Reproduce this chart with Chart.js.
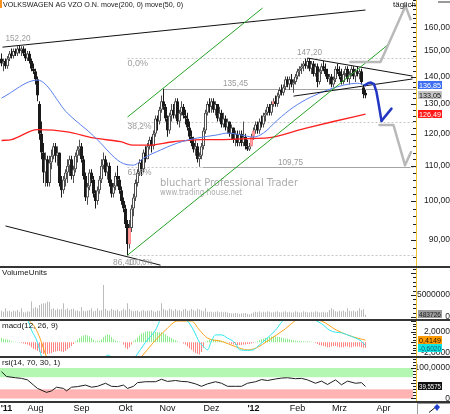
<!DOCTYPE html>
<html>
<head>
<meta charset="utf-8">
<title>VOLKSWAGEN AG VZO O.N.</title>
<script src="https://cdn.jsdelivr.net/npm/chart.js@4.4.1/dist/chart.umd.min.js"></script>
<style>
html,body{margin:0;padding:0;background:#fff;}
#wrap{position:relative;width:450px;height:414px;overflow:hidden;background:#fff;}
#wrap canvas{position:absolute;left:0;}
.sep{position:absolute;left:0;width:450px;height:2px;background:#353535;}
</style>
</head>
<body>
<div id="wrap">
  <canvas id="cMain" width="450" height="266" style="top:0px"></canvas>
  <canvas id="cVol" width="450" height="51" style="top:268px"></canvas>
  <canvas id="cMacd" width="450" height="35" style="top:321px"></canvas>
  <canvas id="cRsi" width="450" height="56" style="top:358px"></canvas>
  <div class="sep" style="top:266px"></div>
  <div class="sep" style="top:319px"></div>
  <div class="sep" style="top:356px"></div>
  <div class="sep" style="top:401px"></div>
  <div style="position:absolute;left:0;top:0;width:2px;height:8px;background:#f7931e"></div>
  <div style="position:absolute;left:438px;top:1px;width:12px;height:2px;background:#9a9a9a"></div>
  <svg style="position:absolute;left:417px;top:403px" width="33" height="11">
    <rect x="0.5" y="0.5" width="33" height="11" fill="#fff" stroke="#9a9a9a"/>
    <line x1="12" y1="9.5" x2="20" y2="3" stroke="#111" stroke-width="1"/>
    <polygon points="20,1 23,4 20,8 17,4" fill="#1f3fcf"/>
  </svg>
</div>
<script>
// ================= DATA =================
// daily candles, index 0 = 7 Jul 2011 ... index 182 = 20 Mar 2012
const candleOpen = [
 147,145,146,144,147,149,148,150,149,151,150,151,149,147,149,146,143,
 142,139,130,120,114,108,112,105,111,113,116,113,114,105,103,106,108,110,112,107,109,113,115,
 116,112,107,101,104,108,106,102,100,103,106,110,112,108,110,105,102,104,107,106,103,100,
 98,94,89,93,98,101,105,108,111,109,114,112,116,118,116,120,125,124,128,131,129,
 125,121,126,128,126,131,124,127,129,126,125,122,119,117,115,116,112,113,116,121,127,130,
 129,131,128,130,125,127,123,125,122,124,120,122,118,120,117,120,117,119,116,115,116,
 119,121,123,121,124,123,126,127,129,127,130,131,130,133,135,134,136,139,137,139,137,138,
 140,142,143,144,145,144,146,143,145,141,144,138,142,144,143,141,139,140,137,139,143,
 142,140,138,141,143,139,141,143,140,142,141,142,136,134];
const candleHigh = [
 149,147,147,148,150,151,151,151,152,152.2,152,152,151,150,150,147,145,
 143,140,131,124,117,114,113,113,115,117,117,116,114,107,107,109,112,113,113,110,114,116,118,
 117,113,108,105,109,109,107,103,104,107,112,114,113,111,111,106,105,108,110,107,104,101,
 99,95,95,99,102,106,109,112,112,115,116,117,119,119,121,126,126,129,133,135.45,130,
 126,127,130,130,132,132,128,131,130,128,127,124,121,119,118,117,114,117,122,128,131,132,
 132,132,131,130,129,128,127,126,125,124,123,122,121,121,121,121,124,120,118,117,120,
 122,124,124,125,126,127,128,130,130,131,132,133,134,136,137,137,140,140,140,141,139,141,
 143,144,145,146,147,147.2,147,146,146,145,145,143,145,146,145,143,141,141,140,144,145,
 144,143,142,144,144,142,144,144,143,144,143,143,137,135];
const candleLow = [
 144,142,143,143,146,147,147,148,148,149,148,148,146,146,145,142,141,
 137,131,118,112,105,104,104,104,109,112,111,110,104,101,102,104,105,107,106,105,108,111,113,
 111,106,100,99,103,105,101,98,99,102,105,109,107,106,104,101,101,103,104,102,99,97,
 93,86.4,88,92,96,100,104,107,107,108,111,112,115,114,115,119,121,123,127,128,124,
 119,120,124,125,125,123,122,126,125,123,121,118,116,114,113,111,109.75,112,115,120,126,127,
 127,127,126,124,124,122,122,121,120,119,118,117,116,116,116,116,116,115,114.5,114.5,116,
 118,120,120,120,122,122,124,126,126,126,129,129,129,132,133,133,135,136,135,136,134,137,
 139,140,141,142,143,143,142,141,140,140,136,137,141,142,140,138,137,136,136,138,141,
 139,137,137,140,138,137,140,139,138,140,139,137,132,132];
const candleClose = [
 145,146,144,147,149,148,150,149,151,150,151,149,147,149,146,143,142,
 139,133,120,114,108,112,105,111,113,116,113,114,105,103,106,108,110,112,107,109,113,115,116,
 112,107,101,104,108,106,102,100,103,106,110,112,108,110,105,102,104,107,106,103,100,98,
 94,89,93,98,101,105,108,111,109,114,112,116,118,116,120,125,124,128,131,129,125,
 121,126,128,126,131,124,127,129,126,125,122,119,117,115,116,112,113,116,121,127,130,129,
 131,128,130,125,127,123,125,122,124,120,122,118,120,117,120,117,119,116,115,116,119,
 121,123,121,124,123,126,127,129,127,130,131,130,133,135,134,136,139,137,139,137,138,140,
 142,143,144,145,144,146,143,145,141,144,138,142,144,143,141,139,140,137,139,143,142,
 140,138,141,143,139,141,143,140,142,141,142,138,133.5,133.05];
const pinkCandleDays = [64,125,126,136];

// volume in millions of units
const volumeMillions = [
 1.4,1.2,2.0,1.3,1.4,1.2,1.5,1.3,1.6,1.2,2.0,1.1,1.0,1.3,1.2,3.5,2.0,
 2.3,2.0,2.7,3.0,3.1,3.1,3.5,3.4,1.8,2.0,1.6,1.9,1.7,1.8,3.1,1.7,2.0,1.6,1.8,1.9,1.4,1.5,1.3,
 2.3,1.4,1.3,1.5,1.6,2.0,1.3,1.4,2.0,1.5,1.6,7.3,1.9,1.5,1.4,1.8,1.6,1.5,1.7,1.3,1.5,1.9,
 1.6,3.1,1.8,1.5,1.3,1.4,1.5,1.2,1.4,1.6,1.3,1.5,1.4,1.6,1.3,1.2,1.5,1.4,3.1,1.8,1.6,
 1.5,1.9,1.7,1.4,1.8,1.5,1.6,1.3,1.7,1.9,1.4,1.5,1.8,1.6,1.4,1.9,1.7,1.5,1.3,2.0,1.2,1.2,
 1.2,1.1,1.2,1.3,1.1,1.2,1.1,1.2,1.0,0.9,0.8,0.8,0.9,0.8,0.7,0.8,0.8,0.9,0.7,0.6,0.8,
 1.0,1.2,1.1,1.3,1.0,1.2,1.1,1.3,1.2,1.0,1.1,1.2,1.3,1.1,1.0,1.2,1.3,1.1,1.2,1.0,1.1,1.3,
 1.2,1.0,1.1,1.3,1.2,1.1,1.0,1.2,1.1,1.3,1.2,1.0,1.1,1.2,1.0,1.1,1.6,2.0,1.7,1.3,1.2,
 1.4,1.3,1.5,1.2,2.0,1.4,1.3,1.5,1.2,1.4,2.0,1.6,1.8,0.483726];

// MACD histogram (daily)
const macdHist = [
 0.8,0.7,0.6,0.5,0.4, 0.2,0.1,0.1,0.05,0.05,
 -0.1,-0.2,-0.3,-0.4,-0.6,-0.9,-1.2,-1.4,-1.6,-1.8,-2.0,-2.2,-2.3,-2.2,-2.1,-2.0,-1.8,-1.7,-1.6,-1.6,-1.7,-1.8,-1.6,-1.3,-1.0,-0.7,-0.3,
 0.2,0.5,0.8,1.1,1.3,1.4,1.3,1.1,0.8,0.5,
 0.2,0.3,0.3,
 0.6,1.0,1.3,1.5,1.4,1.0,0.6,
 0.3,0.2,0.1,0.05,
 -0.4,-1.0,-1.3,-0.9,-0.4,
 0.2,0.5,0.9,1.3,1.6,1.8,2.0,2.1,2.1,2.1,2.0,2.0,1.9,1.9,1.9,1.8,1.5,1.2,1.0,0.8,0.6,0.4,0.2,
 0.05,0,
 -0.2,-0.4,-0.8,-1.1,-1.4,-1.7,-2.0,-2.2,-2.3,-1.8,-1.0,
 0.1,0.3,0.5,0.6,0.6,0.5,0.5,0.4,0.3,0.2,0.1,0.05,
 -0.2,-0.3,-0.4,-0.5,-0.5,-0.5,-0.5,-0.4,-0.4,-0.3,-0.3,-0.2,-0.1,
 0.1,0.2,0.4,0.6,0.7,0.8,0.9,1.0,1.1,1.1,1.1,1.0,1.0,0.9,0.8,0.7,0.7,0.6,0.5,0.4,0.3,0.3,0.2,
 0.2,0.2,0.15,0.2,0.15,0.1,0.1,
 -0.1,-0.3,-0.5,-0.6,-0.7,-0.8,-0.9,-0.9,-0.8,-0.7,-0.7,-0.8,-0.9,-0.9,-0.9,-0.8,-0.8,-0.9,-0.9,-0.8,-0.8,-0.8,-0.8,-0.9,-1.0,-1.0];

// MACD line and signal line (sampled days)
const macdDays = [0,10,13,15,18,20,23,30,40,50,53,55,58,63,67,72,77,80,88,93,96,99,101,103,105,107,110,113,117,119,123,126,128,132,137,142,150,160,164,167,170,173,177,180,182];
const macdValues = [5,4.6,4.2,2.3,0,-2.7,-6,-8,-6,-4,-2.4,-2.7,-3.2,-5,-2.7,0,2.3,4.5,5,4,2.3,0,-0.8,-1.4,0.3,1.4,1.4,0.8,-0.2,-1.4,-1.5,-1.4,-0.8,0.5,2.3,4.5,5,3.5,2.3,1.9,1.8,1.4,0.8,0.2,-0.602];
const signalDays = [0,12,16,17.5,20,22.5,30,45,60,68,70,76,82,88,95,99,103,110,117,123,127,134,141,150,160,167.5,173,178,182];
const signalValues = [5.5,4.5,3.2,2.3,0,-2.7,-6,-6,-4,-3.5,-2.7,0,2.3,4,4,2.3,0.8,0.2,-0.8,-1.4,-1.1,0.5,2.3,4.5,4,2.3,1.4,0.8,0.4149];

// RSI(14) (sampled days)
const rsiDays = [0,2.5,7,10,13,16,18,22.5,25,27.5,31,32.5,35,38,42,45,48,52,55,58,61,63,66,68,72,77,80,83,87,90,93,97,100,103,107,110,113,117,120,123,127,130,133,137,140,143,147,150,153,157,160,163,167,170,173,177,180,182];
const rsiValues = [88,72,68,66,61,44,33,20,25,37,33,25,37,39,44,37,40,50,40,39,44,33,40,52,55,55,63,56,59,56,55,48,40,48,55,50,40,40,40,50,55,62,59,64,67,68,65,66,61,50,57,46,61,45,57,50,52,39.5575];

// moving averages (sampled days)
const ma50Days = [0,18,33,46,48,59.5,66,71,79.5,88,98,108,113,119.5,126,131,138,146,154.5,163,171,178,182];
const ma50Values = [132.1,138.7,126.8,119.3,118.0,111.1,110.2,112.3,114.8,117.0,118.6,119.6,120.2,119.6,118.9,120.2,124.5,128.9,132.4,135.0,136.8,137.5,136.85];
const ma200Days = [0,5,18,33,46,59.5,66,73,86,99.5,109.5,123,133,149.5,166,182];
const ma200Values = [117.8,118.1,121.3,120.6,118.6,117.4,116.3,116.3,117.4,118.1,118.1,118.4,118.6,121.3,124.0,126.49];

// tick labels
const priceTicks = [90,100,110,120,130,140,150,160];
const volumeTicks = [0,5000000];
const macdTicks = [-2,2];
const rsiTicks = [0,100];
const monthTickDays = [2.5,17,40,62,83,105,126,148,169,191];
const monthTickLabels = ["'11","Aug","Sep","Okt","Nov","Dez","'12","Feb","Mrz","Apr"];

// fibonacci levels (from 86,40 low to 147,20 high) and marked prices
const fibValues = [147.2,123.97,109.63,86.4];
const fibLabels = ['0,0%','38,2%','61,8%','100,0%'];
const lastClose = 133.05, lastMa50 = 136.85, lastMa200 = 126.49;
const lastVolume = 483726, lastSignal = 0.4149, lastMacd = -0.602, lastRsi = 39.5575;

// ================= ANNOTATION GEOMETRY (day index, price) =================
const blackTrendLines = [[[0.5,151.6],[182,167.6]], [[2,93.5],[79.5,84.1]], [[153,147.2],[205.5,140.2]], [[146,132.8],[205.5,139.1]]];
const greenChannel = [[[63,125.5],[130.5,168.5]], [[63,86.4],[193,152.4]]];
const horizLines = [{v:135.45, from:81, to:207.25}, {v:109.75, from:100.5, to:204.5}];
const grayArrows = [
  {path:[[174.5,145.6],[189.5,145.6],[202,169.4]], arm:[202,169.4,204.5,163.5]},
  {path:[[189,122.8],[196,122.8],[201.75,110.2]], arm:[201.75,110.2,204.75,114.2]}
];
const blueArrow = {path:[[181.75,136.8],[183.25,137.5],[184.75,137.75],[186.25,137.2],[187.5,134.3],[188.5,130.3],[189.5,126.2],[190,124.2]], arm:[190,124.2,195,128.4]};

// ================= HELPERS =================
const X_MIN = -0.75, X_MAX = 207.25;
const AX_W = 34;
const FONT = '"Liberation Sans", Arial, sans-serif';
const N = candleClose.length;
const days = Array.from({length:N}, (_, i) => i);

function drawText(ctx, s, x, y, font, color, align, maxW) {
  ctx.save();
  ctx.font = font; ctx.fillStyle = color; ctx.textAlign = align || 'left'; ctx.textBaseline = 'middle';
  if (maxW && ctx.measureText(s).width > maxW) ctx.fillText(s, x, y, maxW); else ctx.fillText(s, x, y);
  ctx.restore();
}
function valueBox(ctx, s, y, bg, fg) {
  const yy = Math.round(y);
  ctx.save(); ctx.fillStyle = bg; ctx.fillRect(418, yy - 4, 24, 8); ctx.restore();
  drawText(ctx, s, 419, yy + 0.5, '8px ' + FONT, fg, 'left', 22);
}
function axisDeco(chart, step, majorEvery) {
  const {ctx, chartArea: a} = chart, y = chart.scales.y;
  ctx.save();
  ctx.strokeStyle = '#222'; ctx.lineWidth = 1;
  const lo = y.min, hi = y.max;
  let k = Math.ceil(lo / step);
  for (; k * step <= hi; k++) {
    const v = k * step; const p = Math.round(y.getPixelForValue(v)) + 0.5;
    if (p < a.top || p > a.bottom) continue;
    const len = (majorEvery && Math.abs(v / majorEvery - Math.round(v / majorEvery)) < 1e-6) ? 5 : 3;
    ctx.beginPath(); ctx.moveTo(a.right - len, p); ctx.lineTo(a.right, p); ctx.stroke();
  }
  ctx.strokeStyle = '#efc431';
  ctx.beginPath(); ctx.moveTo(a.right + 0.5, a.top); ctx.lineTo(a.right + 0.5, a.bottom); ctx.stroke();
  ctx.restore();
}
function xOpts(show) {
  const o = {type:'linear', min:X_MIN, max:X_MAX, offset:false, display:show,
             grid:{display:false, drawTicks:false}, border:{display:false}};
  if (show) {
    Object.assign(o, {
      position:'bottom',
      afterBuildTicks: s => { s.ticks = monthTickDays.map(v => ({value:v})); },
      afterFit: s => { s.height = 13; s.paddingLeft = 0; s.paddingRight = 0; },
      ticks:{autoSkip:false, maxRotation:0, minRotation:0, padding:2, color:'#111',
        font: c => ({family:FONT, size:9, weight:(monthTickLabels[c.index] || '').charAt(0) === "'" ? 'bold' : 'normal'}),
        callback: (v, i) => monthTickLabels[i]}
    });
  }
  return o;
}
function yOpts(type, min, max, tickVals, fmt) {
  return {type, position:'right', min, max,
    afterBuildTicks: s => { s.ticks = tickVals.map(v => ({value:v})); },
    afterFit: s => { s.width = AX_W; s.paddingTop = 0; s.paddingBottom = 0; },
    grid:{display:false, drawTicks:false}, border:{display:false},
    ticks:{crossAlign:'far', padding:2, color:'#1c1c1c', font:{family:FONT, size:8.5}, callback: v => fmt(v)}};
}
function baseOptions(yAxis, showX) {
  return {responsive:false, maintainAspectRatio:false, animation:false, events:[],
    layout:{padding:0},
    plugins:{legend:{display:false}, tooltip:{enabled:false}, title:{display:false}},
    scales:{x:xOpts(showX), y:yAxis}};
}
const comma = (v, d) => v.toFixed(d).replace('.', ',');
function polyline(ctx, pts, X, Y) {
  ctx.beginPath();
  pts.forEach((p, k) => { const px = X(p[0]), py = Y(p[1]); if (k) ctx.lineTo(px, py); else ctx.moveTo(px, py); });
  ctx.stroke();
}

// ================= MAIN PRICE CHART =================
const mainDeco = {
  id:'mainDeco',
  beforeDatasetsDraw(chart) {
    const {ctx, chartArea:a} = chart;
    const X = v => chart.scales.x.getPixelForValue(v), Y = v => chart.scales.y.getPixelForValue(v);
    ctx.save();
    ctx.beginPath(); ctx.rect(a.left, a.top, a.right - a.left, a.bottom - a.top); ctx.clip();
    drawText(ctx, 'bluchart Professional Trader', 160, 183, '10px "DejaVu Sans", sans-serif', '#ababab', 'left', 138);
    drawText(ctx, 'www.trading-house.net', 160, 193, '8px "DejaVu Sans", sans-serif', '#ababab', 'left', 82);
    ctx.lineWidth = 1; ctx.strokeStyle = '#c6c6c6'; ctx.setLineDash([2, 2]);
    fibValues.forEach(v => { const y = Math.round(Y(v)) + 0.5; ctx.beginPath(); ctx.moveTo(X(63), y); ctx.lineTo(a.right, y); ctx.stroke(); });
    ctx.setLineDash([]); ctx.strokeStyle = '#a4a4a4';
    horizLines.forEach(h => { const y = Math.round(Y(h.v)) + 0.5; ctx.beginPath(); ctx.moveTo(X(h.from), y); ctx.lineTo(X(h.to), y); ctx.stroke(); });
    ctx.restore();
  },
  afterDatasetsDraw(chart) {
    const {ctx, chartArea:a} = chart;
    const X = v => chart.scales.x.getPixelForValue(v), Y = v => chart.scales.y.getPixelForValue(v);
    ctx.save();
    ctx.beginPath(); ctx.rect(a.left, a.top, a.right - a.left, a.bottom - a.top); ctx.clip();
    ctx.lineWidth = 1; ctx.strokeStyle = '#111';
    blackTrendLines.forEach(l => polyline(ctx, l, X, Y));
    ctx.strokeStyle = '#27a327';
    greenChannel.forEach(l => polyline(ctx, l, X, Y));
    ctx.lineCap = 'round'; ctx.lineJoin = 'round';
    ctx.strokeStyle = '#b9b9b9'; ctx.lineWidth = 2.5;
    grayArrows.forEach(g => { polyline(ctx, g.path, X, Y); polyline(ctx, [[g.arm[0], g.arm[1]], [g.arm[2], g.arm[3]]], X, Y); });
    ctx.strokeStyle = '#2337c4'; ctx.lineWidth = 2.5;
    polyline(ctx, blueArrow.path, X, Y);
    polyline(ctx, [[blueArrow.arm[0], blueArrow.arm[1]], [blueArrow.arm[2], blueArrow.arm[3]]], X, Y);
    const lf = '9px ' + FONT, lc = '#9b9b9b';
    drawText(ctx, '152,20', X(2), Y(152.2) - 7, lf, lc, 'left', 25);
    drawText(ctx, '147,20', X(154), Y(147.2) - 5.5, lf, lc, 'center', 25);
    drawText(ctx, '135,45', X(117), Y(135.45) - 5, lf, lc, 'center', 25);
    drawText(ctx, '109,75', X(144.5), Y(109.75) - 4, lf, lc, 'center', 25);
    drawText(ctx, '86,40', X(61), Y(86.4) + 7, lf, lc, 'center', 21);
    const fibDy = [5, 4.5, 5, 7];
    fibLabels.forEach((t, k) => drawText(ctx, t, X(k === 3 ? 63.5 : 63) , Y(fibValues[k]) + fibDy[k], lf, lc, 'left', 24));
    ctx.restore();
  },
  afterDraw(chart) {
    const {ctx} = chart, Y = v => chart.scales.y.getPixelForValue(v);
    axisDeco(chart, 2, 10);
    drawText(ctx, 'VOLKSWAGEN AG VZO O.N. move(200, 0) move(50, 0)', 3, 5, '8px ' + FONT, '#161616', 'left', 180);
    drawText(ctx, 'täglich', 393, 4.5, '8px ' + FONT, '#111', 'left', 23);
    valueBox(ctx, comma(lastMa50, 2), Y(lastMa50), '#3d6ef2', '#ffffff');
    valueBox(ctx, comma(lastClose, 2), Y(lastClose), '#c4c4c4', '#111111');
    valueBox(ctx, comma(lastMa200, 2), Y(lastMa200), '#ff1a1a', '#ffffff');
  }
};

const wickData = days.map(i => ({x:i, y:[candleLow[i], candleHigh[i]]}));
const bodyData = days.map(i => ({x:i, y:[Math.min(candleOpen[i], candleClose[i]), Math.max(candleOpen[i], candleClose[i])]}));
const isUp = i => candleClose[i] >= candleOpen[i];
const bodyFill = days.map(i => pinkCandleDays.includes(i) ? '#ff9f9f' : (isUp(i) ? '#ffffff' : '#1a1a1a'));
const bodyLine = days.map(i => pinkCandleDays.includes(i) ? '#ff8f8f' : (isUp(i) ? '#505050' : '#1a1a1a'));
const wickColor = days.map(i => isUp(i) ? '#505050' : '#1a1a1a');

new Chart(document.getElementById('cMain'), {
  type:'bar',
  data:{datasets:[
    {type:'line', data:ma50Days.map((d, k) => ({x:d, y:ma50Values[k]})), borderColor:'#5a7ff0', borderWidth:1, pointRadius:0, cubicInterpolationMode:'monotone', order:0},
    {type:'line', data:ma200Days.map((d, k) => ({x:d, y:ma200Values[k]})), borderColor:'#ff2020', borderWidth:1.3, pointRadius:0, cubicInterpolationMode:'monotone', order:0},
    {type:'bar', data:bodyData, backgroundColor:bodyFill, borderColor:bodyLine, borderWidth:1, borderSkipped:false, barThickness:3, grouped:false, minBarLength:1, inflateAmount:0, order:2},
    {type:'bar', data:wickData, backgroundColor:wickColor, borderWidth:0, barThickness:1, grouped:false, inflateAmount:0, order:3}
  ]},
  options:baseOptions(yOpts('logarithmic', 83.91, 172.2, priceTicks, v => comma(v, 2)), false),
  plugins:[mainDeco]
});

// ================= VOLUME =================
new Chart(document.getElementById('cVol'), {
  type:'bar',
  data:{datasets:[{data:volumeMillions.map((v, i) => ({x:i, y:v * 1e6})), backgroundColor:'#bcbcbc', barThickness:1, grouped:false, inflateAmount:0}]},
  options:baseOptions(yOpts('linear', -455000, 11140000, volumeTicks, v => String(v)), false),
  plugins:[{id:'volDeco', afterDraw(chart) {
    const {ctx} = chart;
    axisDeco(chart, 1000000, 5000000);
    drawText(ctx, 'VolumeUnits', 2, 5, '8px ' + FONT, '#161616', 'left', 46);
    valueBox(ctx, String(lastVolume), chart.scales.y.getPixelForValue(lastVolume) - 1, '#9c9c9c', '#202020');
  }}]
});

// ================= MACD =================
new Chart(document.getElementById('cMacd'), {
  type:'bar',
  data:{datasets:[
    {type:'line', data:macdDays.map((d, k) => ({x:d, y:macdValues[k]})), borderColor:'#2ee6f2', borderWidth:1, pointRadius:0, cubicInterpolationMode:'monotone', order:0},
    {type:'line', data:signalDays.map((d, k) => ({x:d, y:signalValues[k]})), borderColor:'#ffa31a', borderWidth:1, pointRadius:0, cubicInterpolationMode:'monotone', order:1},
    {type:'bar', data:macdHist.map((v, i) => ({x:i, y:v})), backgroundColor:macdHist.map(v => v >= 0 ? '#8ceb8c' : '#ff8585'), barThickness:1, grouped:false, inflateAmount:0, order:2}
  ]},
  options:baseOptions(yOpts('linear', -2.56, 4.01, macdTicks, v => comma(v, 4)), false),
  plugins:[{id:'macdDeco', afterDraw(chart) {
    const {ctx} = chart, Y = v => chart.scales.y.getPixelForValue(v);
    axisDeco(chart, 0.5, 2);
    drawText(ctx, 'macd(12, 26, 9)', 2, 5, '8px ' + FONT, '#161616', 'left', 56);
    const ys = Y(lastSignal), ym = Math.max(Y(lastMacd), ys + 8);
    valueBox(ctx, comma(lastSignal, 4), ys, '#ff9a00', '#2a1a00');
    valueBox(ctx, comma(lastMacd, 4), ym, '#10e3e3', '#0a5a6a');
  }}]
});

// ================= RSI =================
new Chart(document.getElementById('cRsi'), {
  type:'line',
  data:{datasets:[{data:rsiDays.map((d, k) => ({x:d, y:rsiValues[k]})), borderColor:'#1e1e1e', borderWidth:1, pointRadius:0, tension:0}]},
  options:baseOptions(yOpts('linear', -8.2, 132.8, rsiTicks, v => v === 0 ? '0' : comma(v, 4)), true),
  plugins:[{id:'rsiDeco',
    beforeDatasetsDraw(chart) {
      const {ctx, chartArea:a} = chart, Y = v => chart.scales.y.getPixelForValue(v);
      ctx.save();
      ctx.fillStyle = '#b3f7b3'; ctx.fillRect(a.left, Y(100), a.right - a.left - 3, Y(70) - Y(100));
      ctx.fillStyle = '#ffb3b3'; ctx.fillRect(a.left, Y(30), a.right - a.left - 3, Y(0) - Y(30));
      ctx.restore();
    },
    afterDraw(chart) {
      const {ctx} = chart;
      axisDeco(chart, 10, 50);
      drawText(ctx, 'rsi(14, 70, 30, 1)', 2, 4.5, '8px ' + FONT, '#161616', 'left', 62);
      valueBox(ctx, comma(lastRsi, 4), chart.scales.y.getPixelForValue(lastRsi), '#111111', '#ffffff');
    }}]
});
</script>
</body>
</html>
